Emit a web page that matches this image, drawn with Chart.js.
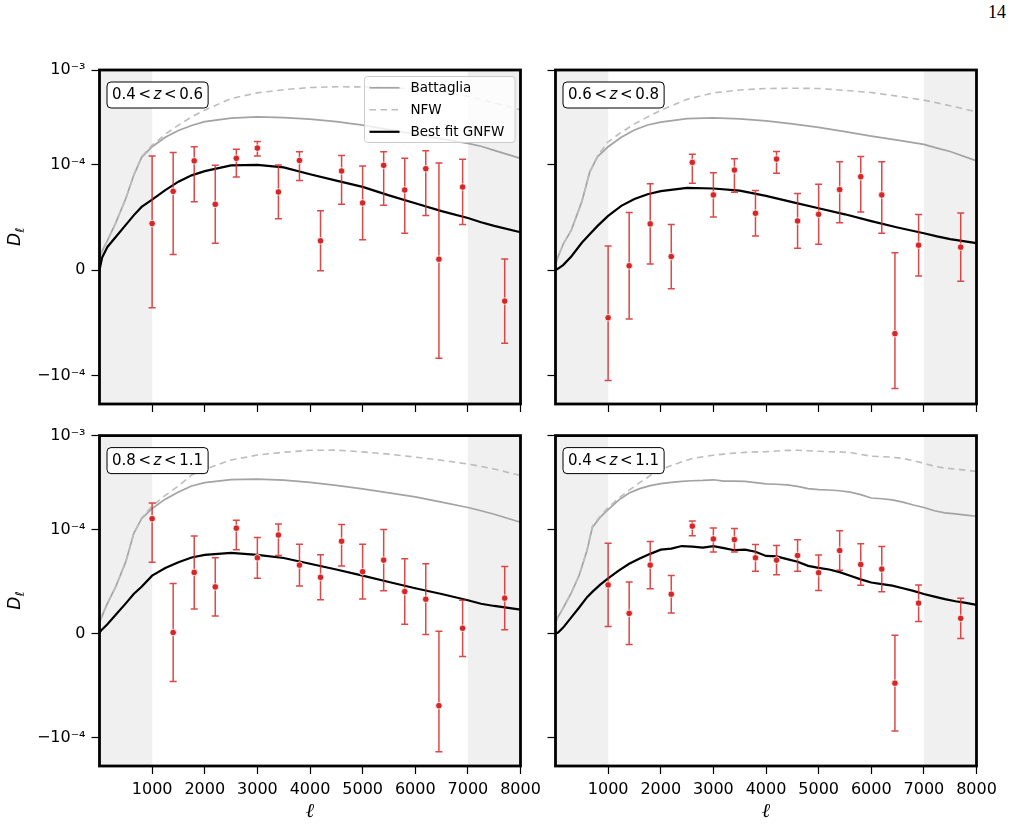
<!DOCTYPE html>
<html><head><meta charset="utf-8">
<script src="https://cdn.jsdelivr.net/npm/chart.js@4.4.1/dist/chart.umd.min.js"></script>
<style>
html,body{margin:0;padding:0;background:#fff;width:1016px;height:826px;overflow:hidden;position:relative}
canvas{position:absolute}
#pg{position:absolute;top:2px;left:988px;font:18px "Liberation Serif","DejaVu Serif",serif;color:#000}
</style></head><body>
<div id="pg">14</div>
<canvas id="c0" width="551" height="380" style="left:0px;top:40px"></canvas>
<canvas id="c1" width="476" height="380" style="left:540px;top:40px"></canvas>
<canvas id="c2" width="551" height="406" style="left:0px;top:420px"></canvas>
<canvas id="c3" width="476" height="406" style="left:540px;top:420px"></canvas>
<script>
// ---------------- data ----------------
const TITLES = ['0.4 < z < 0.6', '0.6 < z < 0.8', '0.8 < z < 1.1', '0.4 < z < 1.1'];
const ELL = [1000,1400,1800,2200,2600,3000,3400,3800,4200,4600,5000,5400,5800,6200,6450,6900,7700];

const D1 = [4.42e-5,7.48e-5,1.10e-4,6.25e-5,1.17e-4,1.50e-4,7.42e-5,1.11e-4,2.78e-5,9.41e-5,6.38e-5,9.95e-5,7.61e-5,9.63e-5,1.04e-5,7.89e-5,-2.94e-5];
const E1 = [8.0e-5,6.0e-5,4.5e-5,3.7e-5,2.85e-5,2.6e-5,2.55e-5,2.6e-5,2.85e-5,3.15e-5,3.5e-5,3.8e-5,4.1e-5,4.45e-5,9.4e-5,3.55e-5,4.0e-5];
const D2 = [-4.52e-5,4.1e-6,4.39e-5,1.29e-5,1.06e-4,7.14e-5,9.5e-5,5.4e-5,1.15e-4,4.67e-5,5.3e-5,7.64e-5,8.87e-5,7.14e-5,-6.03e-5,2.37e-5,2.18e-5];
const E2 = [6.8e-5,5.05e-5,3.8e-5,3.05e-5,2.35e-5,2.1e-5,2.1e-5,2.15e-5,2.3e-5,2.6e-5,2.85e-5,3.15e-5,3.35e-5,3.64e-5,7.67e-5,2.92e-5,3.24e-5];
const D3 = [1.30e-4,1.0e-6,5.87e-5,4.48e-5,1.03e-4,7.27e-5,9.46e-5,6.57e-5,5.4e-5,8.86e-5,5.94e-5,7.05e-5,4.03e-5,3.3e-5,-6.92e-5,5.1e-6,3.4e-5];
const E3 = [6.15e-5,4.7e-5,3.5e-5,2.8e-5,2.25e-5,1.96e-5,1.97e-5,2.0e-5,2.16e-5,2.38e-5,2.63e-5,2.93e-5,3.14e-5,3.4e-5,7.15e-5,2.7e-5,3.03e-5];
const D4 = [4.67e-5,1.94e-5,6.57e-5,3.78e-5,1.083e-4,9.08e-5,9.02e-5,7.27e-5,7.05e-5,7.49e-5,5.84e-5,7.97e-5,6.63e-5,6.19e-5,-4.76e-5,2.92e-5,1.46e-5];
const E4 = [4.0e-5,3.0e-5,2.27e-5,1.8e-5,1.43e-5,1.25e-5,1.2e-5,1.28e-5,1.4e-5,1.52e-5,1.7e-5,1.9e-5,2.0e-5,2.17e-5,4.6e-5,1.75e-5,1.94e-5];

const MODEL_ELL = [0,50,150,300,500,650,800,1000,1250,1500,1750,2000,2500,3000,3500,4000,4500,5000,5500,6000,6500,7000,7250,7500,8000];
const GNFW1 = [0,1.2e-5,2.2e-5,3.1e-5,4.3e-5,5.2e-5,6.0e-5,6.7e-5,7.6e-5,8.4e-5,9.0e-5,9.4e-5,9.95e-5,1.0e-4,9.75e-5,9.1e-5,8.5e-5,7.9e-5,7.1e-5,6.35e-5,5.6e-5,4.95e-5,4.55e-5,4.2e-5,3.6e-5];
const BATT1 = [1.2e-5,1.8e-5,2.8e-5,4.4e-5,6.8e-5,9.0e-5,1.2e-4,1.55e-4,1.95e-4,2.3e-4,2.6e-4,2.85e-4,3.1e-4,3.2e-4,3.15e-4,3.03e-4,2.85e-4,2.62e-4,2.35e-4,2.1e-4,1.88e-4,1.68e-4,1.57e-4,1.42e-4,1.17e-4];
const NFW1 = [1.2e-5,1.8e-5,2.8e-5,4.4e-5,6.8e-5,9.0e-5,1.22e-4,1.61e-4,2.1e-4,2.62e-4,3.2e-4,3.77e-4,5.0e-4,5.74e-4,6.2e-4,6.53e-4,6.65e-4,6.64e-4,6.55e-4,6.3e-4,5.9e-4,5.3e-4,4.9e-4,4.5e-4,3.8e-4];
const GNFW2 = [0,1.5e-6,5.0e-6,1.3e-5,2.6e-5,3.4e-5,4.2e-5,5.15e-5,6.1e-5,6.75e-5,7.2e-5,7.5e-5,7.8e-5,7.75e-5,7.55e-5,7.05e-5,6.45e-5,5.87e-5,5.3e-5,4.65e-5,4.05e-5,3.5e-5,3.2e-5,2.95e-5,2.56e-5];
const BATT2 = [6.0e-6,1.3e-5,2.5e-5,3.8e-5,6.5e-5,9.3e-5,1.22e-4,1.55e-4,1.95e-4,2.33e-4,2.63e-4,2.82e-4,3.07e-4,3.12e-4,3.05e-4,2.91e-4,2.7e-4,2.48e-4,2.24e-4,2.01e-4,1.82e-4,1.64e-4,1.5e-4,1.38e-4,1.1e-4];
const NFW2 = [6.0e-6,1.3e-5,2.5e-5,3.8e-5,6.5e-5,9.3e-5,1.25e-4,1.75e-4,2.2e-4,2.7e-4,3.2e-4,3.75e-4,4.9e-4,5.74e-4,6.15e-4,6.38e-4,6.42e-4,6.38e-4,6.1e-4,5.79e-4,5.3e-4,4.81e-4,4.5e-4,4.2e-4,3.62e-4];
const GNFW3 = [1.0e-6,4.0e-6,9.0e-6,1.75e-5,2.9e-5,3.8e-5,4.5e-5,5.56e-5,6.3e-5,6.85e-5,7.3e-5,7.55e-5,7.75e-5,7.55e-5,7.25e-5,6.7e-5,6.15e-5,5.56e-5,4.95e-5,4.35e-5,3.8e-5,3.2e-5,2.86e-5,2.65e-5,2.29e-5];
const BATT3 = [1.1e-5,1.7e-5,2.9e-5,4.4e-5,6.9e-5,9.6e-5,1.3e-4,1.67e-4,2.1e-4,2.5e-4,2.9e-4,3.15e-4,3.4e-4,3.44e-4,3.35e-4,3.17e-4,2.95e-4,2.7e-4,2.45e-4,2.22e-4,1.95e-4,1.71e-4,1.58e-4,1.45e-4,1.19e-4];
const NFW3 = [1.1e-5,1.7e-5,2.9e-5,4.4e-5,6.9e-5,9.6e-5,1.32e-4,1.78e-4,2.3e-4,2.9e-4,3.8e-4,4.35e-4,5.5e-4,6.2e-4,6.65e-4,6.97e-4,7.0e-4,6.7e-4,6.35e-4,5.9e-4,5.45e-4,4.98e-4,4.7e-4,4.4e-4,3.76e-4];

const FINE_ELL = [0,50,150,300,450,600,700,850,1000,1200,1400,1600,1800,2000,2200,2400,2600,2800,3000,3200,3400,3600,3800,4000,4200,4400,4600,4800,5000,5200,5400,5600,5800,6000,6200,6400,6600,6800,7000,7200,7400,7600,7800,8000];
const GNFW4 = [0,1.0e-6,6.0e-6,1.55e-5,2.5e-5,3.5e-5,4.0e-5,4.7e-5,5.3e-5,6.05e-5,6.7e-5,7.2e-5,7.65e-5,8.05e-5,8.15e-5,8.4e-5,8.35e-5,8.25e-5,8.4e-5,8.2e-5,8.0e-5,8.05e-5,7.85e-5,7.45e-5,7.4e-5,7.15e-5,6.9e-5,6.5e-5,6.3e-5,6.15e-5,5.9e-5,5.55e-5,5.2e-5,4.9e-5,4.75e-5,4.6e-5,4.35e-5,4.1e-5,3.8e-5,3.55e-5,3.3e-5,3.1e-5,2.95e-5,2.76e-5];
const BATT4 = [1.1e-5,1.6e-5,2.5e-5,3.9e-5,5.6e-5,8.0e-5,1.05e-4,1.35e-4,1.62e-4,2.05e-4,2.44e-4,2.72e-4,2.93e-4,3.07e-4,3.17e-4,3.25e-4,3.3e-4,3.33e-4,3.38e-4,3.27e-4,3.27e-4,3.25e-4,3.15e-4,3.05e-4,3.03e-4,2.98e-4,2.88e-4,2.72e-4,2.65e-4,2.63e-4,2.58e-4,2.5e-4,2.35e-4,2.16e-4,2.12e-4,2.06e-4,1.95e-4,1.82e-4,1.71e-4,1.58e-4,1.5e-4,1.46e-4,1.42e-4,1.38e-4];
const NFW4 = [1.1e-5,1.6e-5,2.5e-5,3.9e-5,5.6e-5,8.0e-5,1.08e-4,1.38e-4,1.71e-4,2.15e-4,2.62e-4,3.15e-4,3.75e-4,4.31e-4,4.8e-4,5.25e-4,5.7e-4,5.95e-4,6.18e-4,6.35e-4,6.5e-4,6.62e-4,6.7e-4,6.75e-4,6.85e-4,6.95e-4,6.97e-4,6.9e-4,6.8e-4,6.72e-4,6.7e-4,6.6e-4,6.3e-4,6.03e-4,5.97e-4,5.88e-4,5.72e-4,5.4e-4,5.06e-4,4.7e-4,4.5e-4,4.4e-4,4.28e-4,4.14e-4];

const X_TICKS = [1000,2000,3000,4000,5000,6000,7000,8000];
const Y_TICKS = [-1e-4, 0, 1e-4, 1e-3];
const Y_TICK_LABELS = ['\u221210\u207B\u2074', '0', '10\u207B\u2074', '10\u207B\u00B3'];
const MASKED = [[0,1000],[7000,8000]];
const LEGEND_ORDER = ['Battaglia', 'NFW', 'Best fit GNFW'];

// ---------------- symlog scale ----------------
const LinScale = Chart.LinearScale || Chart.registry.getScale('linear');
const LINTHRESH = 1e-4, LINSCALE_ADJ = 1 / (1 - 1 / 10);
class SymLogScale extends LinScale {
  static id = 'symlog';
  _fwd(v) { const a = Math.abs(v); return a <= LINTHRESH ? v / LINTHRESH * LINSCALE_ADJ : Math.sign(v) * (LINSCALE_ADJ + Math.log10(a / LINTHRESH)); }
  _inv(t) { const a = Math.abs(t); return a <= LINSCALE_ADJ ? t / LINSCALE_ADJ * LINTHRESH : Math.sign(t) * LINTHRESH * Math.pow(10, a - LINSCALE_ADJ); }
  determineDataLimits() { this.min = this.options.min; this.max = this.options.max; }
  buildTicks() { return Y_TICKS.map(v => ({ value: v })); }
  configure() { super.configure(); this._tMin = this._fwd(this.min); this._tMax = this._fwd(this.max); }
  getPixelForValue(v) { return this.getPixelForDecimal((this._fwd(v) - this._tMin) / (this._tMax - this._tMin)); }
  getValueForPixel(p) { return this._inv(this._tMin + this.getDecimalForPixel(p) * (this._tMax - this._tMin)); }
}
Chart.register(SymLogScale);
Chart.defaults.font.family = '"DejaVu Sans"';
Chart.defaults.color = '#000';

// ---------------- decorations ----------------
function rrect(ctx, x, y, w, h, r) {
  ctx.beginPath();
  ctx.moveTo(x + r, y); ctx.lineTo(x + w - r, y); ctx.arcTo(x + w, y, x + w, y + r, r);
  ctx.lineTo(x + w, y + h - r); ctx.arcTo(x + w, y + h, x + w - r, y + h, r);
  ctx.lineTo(x + r, y + h); ctx.arcTo(x, y + h, x, y + h - r, r);
  ctx.lineTo(x, y + r); ctx.arcTo(x, y, x + r, y, r); ctx.closePath();
}
const decor = {
  id: 'decor',
  beforeDatasetsDraw(chart) {
    const { ctx, chartArea: a, scales: { x } } = chart;
    ctx.save(); ctx.fillStyle = '#f0f0f0';
    for (const [l0, l1] of MASKED) {
      const p0 = x.getPixelForValue(l0), p1 = x.getPixelForValue(l1);
      ctx.fillRect(p0, a.top, p1 - p0, a.bottom - a.top);
    }
    ctx.restore();
  },
  beforeDatasetDraw(chart, args) {
    const ds = chart.data.datasets[args.index];
    if (!ds.errors) return;
    const { ctx, scales: { x, y } } = chart;
    ctx.save(); ctx.strokeStyle = 'rgba(214,39,40,0.85)'; ctx.lineWidth = 1.5;
    ds.data.forEach((p, i) => {
      const px = x.getPixelForValue(p.x);
      const y0 = y.getPixelForValue(p.y - ds.errors[i]);
      const y1 = y.getPixelForValue(p.y + ds.errors[i]);
      ctx.beginPath();
      ctx.moveTo(px, y0); ctx.lineTo(px, y1);
      ctx.moveTo(px - 3.5, y0); ctx.lineTo(px + 3.5, y0);
      ctx.moveTo(px - 3.5, y1); ctx.lineTo(px + 3.5, y1);
      ctx.stroke();
    });
    ctx.restore();
  },
  afterDraw(chart, args, o) {
    const { ctx, chartArea: a } = chart;
    ctx.save();
    // frame
    ctx.strokeStyle = '#000'; ctx.lineWidth = 2.8;
    ctx.strokeRect(a.left, a.top, a.right - a.left, a.bottom - a.top);
    // title box
    const toks = o.title.split(' ');
    const fN = '15px "DejaVu Sans"', fI = 'italic 15px "DejaVu Sans"';
    const gap = 2.6;
    let tw = 0; const ws = toks.map(t => { ctx.font = t === 'z' ? fI : fN; const w = ctx.measureText(t).width; tw += w; return w; });
    tw += gap * (toks.length - 1);
    const bx = a.left + 7.5, by = a.top + 12, bw = tw + 10, bh = 26;
    rrect(ctx, bx, by, bw, bh, 4);
    ctx.fillStyle = '#fff'; ctx.fill();
    ctx.lineWidth = 1; ctx.strokeStyle = '#000'; ctx.stroke();
    ctx.fillStyle = '#000'; ctx.textBaseline = 'middle'; ctx.textAlign = 'left';
    let cx = bx + 5;
    toks.forEach((t, i) => { ctx.font = t === 'z' ? fI : fN; ctx.fillText(t, cx, by + bh / 2 + 0.5); cx += ws[i] + gap; });
    // legend
    if (o.legend) {
      const lw = 150.5, lh = 66, lx = a.right - 5.5 - lw, ly = a.top + 6.5;
      rrect(ctx, lx, ly, lw, lh, 3);
      ctx.fillStyle = 'rgba(255,255,255,0.8)'; ctx.fill();
      ctx.strokeStyle = '#cccccc'; ctx.lineWidth = 1; ctx.stroke();
      ctx.font = '13.5px "DejaVu Sans"';
      LEGEND_ORDER.forEach((lab, i) => {
        const ds = chart.data.datasets.find(d => d.label === lab);
        const yy = ly + 11.3 + i * 22;
        ctx.save();
        ctx.strokeStyle = ds.borderColor; ctx.lineWidth = ds.borderWidth; ctx.setLineDash(ds.borderDash || []);
        ctx.beginPath(); ctx.moveTo(lx + 5, yy); ctx.lineTo(lx + 35, yy); ctx.stroke();
        ctx.restore();
        ctx.fillStyle = '#000'; ctx.textBaseline = 'middle';
        ctx.fillText(lab, lx + 46, yy + 0.5);
      });
    }
    // y label
    if (o.ylabel) {
      const cy = (a.top + a.bottom) / 2;
      ctx.translate(o.ylabelX, cy); ctx.rotate(-Math.PI / 2);
      ctx.font = 'italic 17px "DejaVu Sans"'; const wD = ctx.measureText('D').width;
      ctx.font = 'italic 12px "DejaVu Sans"'; const wL = ctx.measureText('\u2113').width;
      const x0 = -(wD + wL) / 2;
      ctx.fillStyle = '#000'; ctx.textBaseline = 'alphabetic'; ctx.textAlign = 'left';
      ctx.font = 'italic 17px "DejaVu Sans"'; ctx.fillText('D', x0, 0);
      ctx.font = 'italic 12px "DejaVu Sans"'; ctx.fillText('\u2113', x0 + wD + 0.5, 3.5);
    }
    ctx.restore();
  }
};

// ---------------- panels ----------------
const SERIES = [
  { d: D1, e: E1, ell: MODEL_ELL, g: GNFW1, b: BATT1, n: NFW1 },
  { d: D2, e: E2, ell: MODEL_ELL, g: GNFW2, b: BATT2, n: NFW2 },
  { d: D3, e: E3, ell: MODEL_ELL, g: GNFW3, b: BATT3, n: NFW3 },
  { d: D4, e: E4, ell: FINE_ELL, g: GNFW4, b: BATT4, n: NFW4 },
];
const BOXES = [
  { left: 0, top: 40, w: 551, h: 380, area: [99.5, 70, 520.5, 404], xl: false, yl: true, legend: true },
  { left: 540, top: 40, w: 476, h: 380, area: [555.5, 70, 976.5, 404], xl: false, yl: false, legend: false },
  { left: 0, top: 420, w: 551, h: 406, area: [99.5, 432, 520.5, 766], xl: true, yl: true, legend: false },
  { left: 540, top: 420, w: 476, h: 406, area: [555.5, 432, 976.5, 766], xl: true, yl: false, legend: false },
];
const pts = (xs, ys) => xs.map((x, i) => ({ x, y: ys[i] }));

SERIES.forEach((s, k) => {
  const B = BOXES[k];
  const tickFont = { family: 'DejaVu Sans', size: 16 };
  new Chart(document.getElementById('c' + k), {
    type: 'line',
    data: {
      datasets: [
        { label: 'data', data: pts(ELL, s.d), errors: s.e, showLine: false, order: 0,
          pointRadius: 3.3, pointBackgroundColor: '#d62728', pointBorderColor: '#ffffff', pointBorderWidth: 0.8 },
        { label: 'Best fit GNFW', data: pts(s.ell, s.g), borderColor: '#000000', borderWidth: 2.2, pointRadius: 0, tension: 0, order: 1 },
        { label: 'NFW', data: pts(s.ell, s.n), borderColor: '#bdbdbd', borderWidth: 1.6, borderDash: [6.5, 4.5], pointRadius: 0, tension: 0, order: 2 },
        { label: 'Battaglia', data: pts(s.ell, s.b), borderColor: '#a3a3a3', borderWidth: 1.7, pointRadius: 0, tension: 0, order: 3 },
      ]
    },
    options: {
      responsive: false, animation: false, devicePixelRatio: 1, events: [],
      layout: { padding: { left: 0, top: B.area[1] - B.top, right: B.left + B.w - B.area[2], bottom: 0 } },
      plugins: {
        legend: { display: false }, tooltip: { enabled: false },
        decor: { title: TITLES[k], legend: B.legend, ylabel: B.yl, ylabelX: 20 - B.left }
      },
      scales: {
        x: {
          type: 'linear', min: 0, max: 8000,
          afterBuildTicks: sc => { sc.ticks = X_TICKS.map(v => ({ value: v })); },
          afterFit: sc => { sc.height = B.top + B.h - B.area[3]; },
          grid: { display: true, drawOnChartArea: false, drawTicks: true, tickLength: 8, tickColor: '#000', tickWidth: 1.2 },
          border: { display: false },
          ticks: { font: tickFont, color: '#000', padding: 6, maxRotation: 0, autoSkip: false,
                   callback: v => B.xl ? String(v) : '' },
          title: { display: B.xl, text: '\u2113', color: '#000', font: { family: 'DejaVu Serif', style: 'italic', size: 20 }, padding: { top: 0, bottom: 2 } }
        },
        y: {
          type: 'symlog', min: -2e-4, max: 1e-3,
          afterFit: sc => { sc.width = B.area[0] - B.left; },
          grid: { display: true, drawOnChartArea: false, drawTicks: true, tickLength: 8, tickColor: '#000', tickWidth: 1.2 },
          border: { display: false },
          ticks: { font: tickFont, color: '#000', padding: 6, autoSkip: false,
                   callback: v => B.yl ? Y_TICK_LABELS[Y_TICKS.indexOf(v)] : '' }
        }
      }
    },
    plugins: [decor]
  });
});
</script>
</body></html>
